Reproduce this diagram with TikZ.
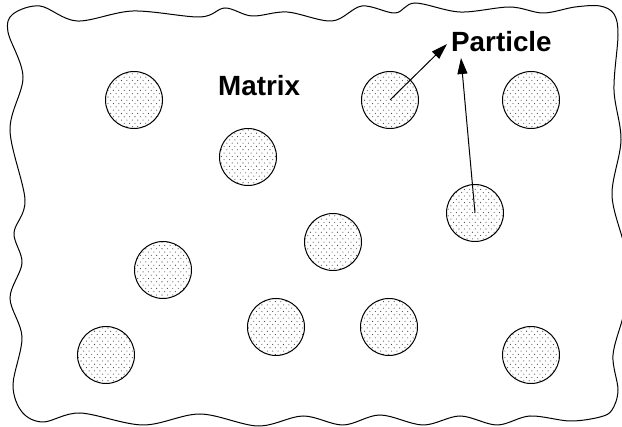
\documentclass[tikz,border=0pt]{standalone}
\usepackage{fontspec}
\setmainfont{Liberation Sans}
\usetikzlibrary{arrows.meta,patterns}
\pgfdeclarepatternformonly{sdots}{\pgfpoint{-1pt}{-1pt}}{\pgfpoint{6.4pt}{7.6pt}}{\pgfpoint{5.4pt}{6.6pt}}{%
  \pgfpathcircle{\pgfpoint{0pt}{0pt}}{0.55pt}%
  \pgfpathcircle{\pgfpoint{2.7pt}{3.3pt}}{0.55pt}%
  \pgfusepath{fill}}
\tikzset{
  particle/.style={circle, draw=black, line width=1pt, minimum size=57pt, inner sep=0pt,
    pattern=sdots, pattern color=black!75},
  label text/.style={font=\fontsize{27.8}{32}\selectfont\bfseries, inner sep=0pt, anchor=base west},
  pointer/.style={line width=1pt, -{Triangle[length=16pt,width=10pt]}},
  border/.style={line width=1pt}
}
\begin{document}
\begin{tikzpicture}[x=1pt,y=-1pt]
\useasboundingbox (0,0) rectangle (622,427);
\clip (0,0) rectangle (622,427);
\fill[white] (0,0) rectangle (622,427);
\draw[border] plot[smooth cycle, tension=0.55] coordinates {
 (8,32) (13,14) (40,6) (77,21) (133,11) (200,17) (225,8) (252,16) (287,12) (332,21)
 (362,6) (395,13) (415,3) (460,12) (510,7) (543,13) (575,7) (600,6) (614,14) (618,35)
 (614,90) (621,140) (612,195) (624,245) (628,280)
 (624,313) (613,355) (618,390) (612,410) (600,417) (570,421) (530,416) (497,425)
 (460,416) (423,425) (380,415) (343,425) (303,416) (258,426) (200,414) (143,425) (80,413)
 (43,422) (22,412) (13,385) (22,337) (10,298) (22,263) (14,233) (25,200) (10,130)
 (23,77)};
\node[particle] (p1) at (134,100) {};
\node[particle] (p2) at (390,100) {};
\node[particle] (p3) at (531,100) {};
\node[particle] (p4) at (248,157) {};
\node[particle] (p5) at (475,213) {};
\node[particle] (p6) at (333,242) {};
\node[particle] (p7) at (163,270) {};
\node[particle] (p8) at (276,327) {};
\node[particle] (p9) at (389,327) {};
\node[particle] (p10) at (106,355) {};
\node[particle] (p11) at (531,355) {};
\node[label text] (matrix) at (218,96) {Matrix};
\node[label text] (particlelabel) at (451,52) {Particle};
\coordinate (t1) at (447,44);
\coordinate (t2) at (461,58);
\draw[pointer] (p2.center) -- (t1);
\draw[pointer] (p5.center) -- (t2);
\end{tikzpicture}
\end{document}
